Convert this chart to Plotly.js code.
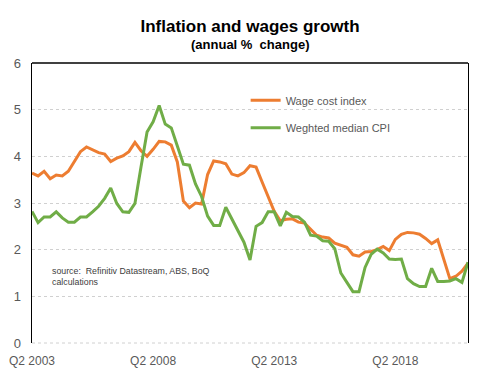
<!DOCTYPE html>
<html>
<head>
<meta charset="utf-8">
<script src="https://cdn.plot.ly/plotly-3.0.1.min.js"></script>
<style>
html,body{margin:0;padding:0;background:#fff;}
#chart{width:499px;height:387px;}
</style>
</head>
<body>
<div id="chart"></div>
<script>
const quarters = [
"Q2 2003","Q3 2003","Q4 2003","Q1 2004","Q2 2004","Q3 2004","Q4 2004","Q1 2005",
"Q2 2005","Q3 2005","Q4 2005","Q1 2006","Q2 2006","Q3 2006","Q4 2006","Q1 2007",
"Q2 2007","Q3 2007","Q4 2007","Q1 2008","Q2 2008","Q3 2008","Q4 2008","Q1 2009",
"Q2 2009","Q3 2009","Q4 2009","Q1 2010","Q2 2010","Q3 2010","Q4 2010","Q1 2011",
"Q2 2011","Q3 2011","Q4 2011","Q1 2012","Q2 2012","Q3 2012","Q4 2012","Q1 2013",
"Q2 2013","Q3 2013","Q4 2013","Q1 2014","Q2 2014","Q3 2014","Q4 2014","Q1 2015",
"Q2 2015","Q3 2015","Q4 2015","Q1 2016","Q2 2016","Q3 2016","Q4 2016","Q1 2017",
"Q2 2017","Q3 2017","Q4 2017","Q1 2018","Q2 2018","Q3 2018","Q4 2018","Q1 2019",
"Q2 2019","Q3 2019","Q4 2019","Q1 2020","Q2 2020","Q3 2020","Q4 2020","Q1 2021",
"Q2 2021"];

const wageCostIndex = [
3.64,3.58,3.68,3.52,3.60,3.58,3.68,3.90,
4.10,4.20,4.14,4.08,4.05,3.89,3.96,4.01,
4.10,4.30,4.12,4.00,4.15,4.32,4.31,4.24,
3.88,3.04,2.90,3.00,2.98,3.61,3.90,3.88,
3.84,3.62,3.58,3.65,3.80,3.77,3.45,3.14,
2.82,2.62,2.65,2.66,2.59,2.57,2.45,2.31,
2.27,2.25,2.14,2.09,2.05,1.89,1.86,1.95,
1.96,2.00,2.07,1.98,2.22,2.33,2.37,2.36,
2.33,2.24,2.13,2.21,1.78,1.38,1.43,1.54,
1.71];

const weightedMedianCPI = [
2.82,2.58,2.70,2.70,2.81,2.68,2.59,2.59,
2.70,2.70,2.81,2.93,3.10,3.32,2.99,2.81,
2.80,2.99,3.77,4.52,4.74,5.09,4.69,4.61,
4.22,3.83,3.81,3.41,3.14,2.72,2.52,2.52,
2.91,2.65,2.41,2.16,1.78,2.50,2.58,2.81,
2.81,2.51,2.80,2.71,2.70,2.59,2.31,2.29,
2.19,2.18,2.02,1.50,1.30,1.10,1.10,1.62,
1.90,2.01,1.93,1.80,1.79,1.80,1.38,1.27,
1.21,1.21,1.60,1.32,1.32,1.33,1.38,1.30,
1.73];

const xTickVals = ["Q2 2003","Q2 2008","Q2 2013","Q2 2018"];
const yTickVals = [0,1,2,3,4,5,6];

const seriesNames = ["Wage cost index","Weghted median CPI"];
const chartTitle = "Inflation and wages growth";
const chartSubtitle = "(annual %  change)";
const sourceNote = "source:  Refinitiv Datastream, ABS, BoQ<br>calculations";

const FONT = "Liberation Sans, Arial, sans-serif";

const traces = [
  {x: quarters, y: wageCostIndex, name: seriesNames[0], type: "scatter", mode: "lines",
   line: {color: "#ED7D31", width: 3}, legend: "legend", showlegend: true},
  {x: quarters, y: weightedMedianCPI, name: seriesNames[1], type: "scatter", mode: "lines",
   line: {color: "#70AD47", width: 3}, legend: "legend2", showlegend: true}
];

const legendCommon = {
  bgcolor: "rgba(0,0,0,0)", borderwidth: 0, visible: true,
  font: {family: FONT, size: 11, color: "#595959"},
  xanchor: "left", yanchor: "middle", itemwidth: 30
};

const layout = {
  width: 499, height: 387,
  showlegend: true,
  paper_bgcolor: "#fff", plot_bgcolor: "#fff",
  margin: {l: 32, r: 31, t: 63, b: 44},
  font: {family: FONT, color: "#595959"},
  title: {
    text: "<b>" + chartTitle + "</b>",
    font: {family: FONT, size: 17, color: "#000"},
    x: 0.5, xanchor: "center", xref: "paper", yref: "container", y: 0.933, yanchor: "middle"
  },
  xaxis: {
    type: "category", categoryorder: "array", categoryarray: quarters,
    range: [0, 72], tickmode: "array", tickvals: xTickVals, ticktext: xTickVals,
    showgrid: false, zeroline: false, showline: false, ticks: "",
    ticklabelstandoff: 9,
    tickfont: {family: FONT, size: 12, color: "#595959"}, fixedrange: true
  },
  yaxis: {
    range: [0, 6], tickmode: "array", tickvals: yTickVals,
    showgrid: true, gridcolor: "#d0d0d0", griddash: "dot", gridwidth: 1,
    zeroline: false, showline: true, linecolor: "#000", linewidth: 1.3, mirror: true,
    ticks: "", ticklabelstandoff: 7,
    tickfont: {family: FONT, size: 13, color: "#595959"}, fixedrange: true
  },
  legend: Object.assign({}, legendCommon, {x: 0.49, y: 0.867}),
  legend2: Object.assign({}, legendCommon, {x: 0.49, y: 0.769}),
  shapes: [
    {type: "line", xref: "paper", yref: "paper", x0: 0, x1: 1, y0: 1, y1: 1,
     line: {color: "#000", width: 1.3}},
    {type: "line", xref: "paper", yref: "paper", x0: 0, x1: 1, y0: 0, y1: 0,
     line: {color: "#d0d0d0", width: 1, dash: "dot"}, layer: "below"}
  ],
  annotations: [
    {text: "<b>" + chartSubtitle + "</b>", xref: "paper", yref: "paper", x: 0.5, y: 1.067,
     xanchor: "center", yanchor: "middle", showarrow: false,
     font: {family: FONT, size: 13, color: "#000"}},
    {text: sourceNote, xref: "paper", yref: "paper", x: 0.042, y: 0.238,
     xanchor: "left", yanchor: "middle", align: "left", showarrow: false,
     font: {family: FONT, size: 8.8, color: "#404040"}}
  ]
};

Plotly.newPlot("chart", traces, layout, {displayModeBar: false, staticPlot: true});
</script>
</body>
</html>
